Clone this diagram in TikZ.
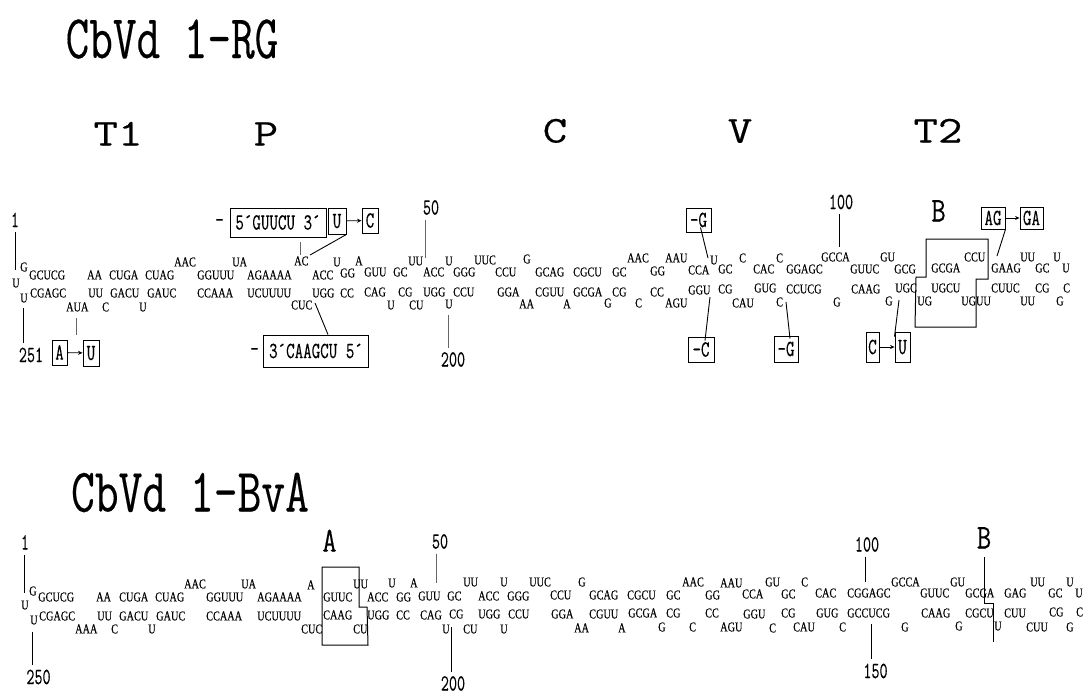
\documentclass[tikz,border=0pt]{standalone}
\usepackage{fontspec}
\usepackage{graphicx}
\setmainfont{Liberation Serif}
\newfontfamily\seqf[FakeBold=0.25]{Liberation Serif}
\newfontfamily\monof[FakeBold=0.3]{Latin Modern Mono}
\usetikzlibrary{arrows.meta}
\newcommand\mono[3]{\scalebox{#2}[1]{\fontsize{#1}{#1}\selectfont\monof #3}}
\newcommand\sq[1]{\scalebox{.76}[1]{\fontsize{13.5}{13.5}\selectfont\seqf #1}}
\tikzset{
  seq/.style={inner sep=0pt,anchor=west,text height=8.8pt,text depth=0pt},
  ttl/.style={inner sep=0pt,text height=38pt,text depth=0pt},
  hdr/.style={inner sep=0pt,text height=23pt,text depth=0pt},
  num/.style={inner sep=0pt,outer ysep=5pt,text height=14pt,text depth=0pt},
  big/.style={inner sep=0pt,outer ysep=3pt,text height=21pt,text depth=0pt},
  bx/.style={draw,line width=.9pt,inner sep=0pt,text height=14pt,text depth=0pt},
  dsh/.style={inner sep=0pt},
  lead/.style={line width=.9pt},
  thin lead/.style={line width=.8pt,black!60},
  arr/.style={line width=.8pt,-{Stealth[length=4.5pt,width=4pt]}},
  wall/.style={line width=1pt},
}
\begin{document}
\begin{tikzpicture}[x=1pt,y=-1pt]
\useasboundingbox (0,0) rectangle (1083,694);
% titles
\node[ttl] (title1) at (172,39) {\mono{62}{.74}{CbVd 1-RG}};
\node[ttl] (title2) at (190,492.5) {\mono{62}{.745}{CbVd 1-BvA}};
\node[hdr] (hT1) at (118,134) {\mono{38}{1.25}{T1}};
\node[hdr] (hP) at (266,134) {\mono{38}{1.25}{P}};
\node[hdr] (hC) at (555,131) {\mono{38}{1.25}{C}};
\node[hdr] (hV) at (740,131) {\mono{38}{1.25}{V}};
\node[hdr] (hT2) at (938,131) {\mono{38}{1.25}{T2}};
% upper strand, first molecule
\foreach \xx/\yy/\tx [count=\i] in {20/267/G,12/283/U,20/298/U,
 29/275/GCUCG,87/275/AA,109/275/CUGA,145/275/CUAG,174/262/AAC,197/275/GGUUU,232/262/UA,247/275/AGAAAA,294/261/AC,312/275/ACC,333/262/U,340/273/GG,355/261/A,
 364/272/GUU,393/272/GC,408/261/UU,423/272/ACC,445/261/U,453/272/GGG,474/260/UUC,495/272/CCU,523/259/G,535/272/GCAG,573/272/CGCU,612/272/GC,627/258/AAC,650/271/GG,665/258/AAU,688/270/CCA,710/260/U,718/269/GC,
 739/258/C,753/269/CAC,776/258/C,786/269/GGAGC,821/257/GCCA,850/269/GUUC,880/257/GU,894/269/GCG,931/268/GCGA,964/257/CCU,991/268/GAAG,1020/257/UU,1035/268/GC,1053/257/U,1062/268/U}
  {\node[seq] (a\i) at (\xx,\yy) {\sq{\tx}};}
% lower strand, first molecule
\foreach \xx/\yy/\tx [count=\i] in {30/293/CGAGC,66/307/AUA,88/293/UU,102/307/C,110/293/GACU,139/307/U,147/293/GAUC,197/293/CCAAA,247/293/UCUUUU,291/305/CUC,312/293/UGG,340/293/CC,
 364/292/CAG,387/305/U,398/292/CG,409/305/CU,423/292/UGG,445/304/U,453/292/CCU,497/292/GGA,519/304/AA,535/292/CGUU,563/304/A,573/292/GCGA,604/303/G,612/292/CG,635/303/C,650/292/CC,665/303/AGU,688/290/GGU,718/289/CG,
 732/303/CAU,754/288/GUG,776/302/C,786/289/CCUCG,833/302/G,851/289/CAAG,885/301/G,895/288/UGC,917/301/UG,931/288/UGCU,961/301/UGUU,991/288/CUUC,1020/301/UU,1035/288/CG,1056/301/G,1063/288/C}
  {\node[seq] (b\i) at (\xx,\yy) {\sq{\tx}};}
% upper strand, second molecule
\foreach \xx/\yy/\tx [count=\i] in {29/591/G,21/605/U,30/620/U,
 38/597/GCUCG,96/597/AA,119/597/CUGA,155/597/CUAG,184/584/AAC,206/597/GGUUU,241/584/UA,257/597/AGAAAA,307/585/A,323/597/GUUC,353/584/UU,
 367/597/ACC,388/583/U,396/597/GG,410/583/A,418/596/GUU,447/596/GC,463/582/UU,478/596/ACC,500/582/U,507/596/GGG,529/582/UUC,550/595/CCU,578/582/G,589/595/GCAG,627/595/CGCU,666/595/GC,682/582/AAC,705/595/GG,720/583/AAU,
 742/594/CCA,765/582/GU,781/594/GC,801/582/C,815/593/CAC,847/593/CGGAGC,891/582/GCCA,920/593/GUUC,950/582/GU,965/593/GCGA,1004/593/GAG,1030/582/UU,1048/593/GC,1066/582/U,1075/593/U}
  {\node[seq] (c\i) at (\xx,\yy) {\sq{\tx}};}
% lower strand, second molecule
\foreach \xx/\yy/\tx [count=\i] in {39/616/CGAGC,75/629/AAA,97/616/UU,111/629/C,119/616/GACU,148/629/U,156/616/GAUC,206/616/CCAAA,257/616/UCUUUU,301/629/CUC,323/615/CAAG,353/629/CU,
 367/615/UGG,396/615/CC,420/615/CAG,442/629/U,449/614/CG,463/629/CU,478/614/UGG,500/629/U,508/614/CCU,551/614/GGA,574/628/AA,589/614/CGUU,618/628/A,628/613/GCGA,658/627/G,666/613/CG,689/627/C,705/613/CC,720/627/AGU,
 743/614/GGU,769/628/C,781/613/CG,793/627/CAU,816/613/GUG,839/627/C,847/613/GCCUCG,901/627/G,921/613/CAAG,955/626/G,965/613/CGCU,994/626/U,1004/613/CUU,1026/627/CUU,1049/612/CG,1066/627/G,1076/612/C}
  {\node[seq] (d\i) at (\xx,\yy) {\sq{\tx}};}
% boxed changes, first molecule
\node[bx,minimum width=96pt,minimum height=29pt] (b5) at (278,222.5) {\mono{23}{.72}{5´GUUCU 3´}};
\node[bx,minimum width=18pt,minimum height=26pt] (bU1) at (337,221) {\mono{23}{.72}{U}};
\node[bx,minimum width=16pt,minimum height=25pt] (bC1) at (370,220.5) {\mono{23}{.72}{C}};
\node[dsh] (dash1) at (219.5,223) {\mono{23}{.72}{-}};
\node[bx,minimum width=105pt,minimum height=32pt] (b3) at (316,351) {\mono{23}{.72}{3´CAAGCU 5´}};
\node[dsh] (dash2) at (254.5,352) {\mono{23}{.72}{-}};
\node[bx,minimum width=15pt,minimum height=25pt] (bA) at (59.5,352.5) {\mono{23}{.72}{A}};
\node[bx,minimum width=16pt,minimum height=26pt] (bU2) at (91,353) {\mono{23}{.72}{U}};
\node[bx,minimum width=25pt,minimum height=24pt] (bmG1) at (698.5,220) {\mono{23}{.72}{-G}};
\node[bx,minimum width=26pt,minimum height=25pt] (bmC) at (701,349.5) {\mono{23}{.72}{-C}};
\node[bx,minimum width=24pt,minimum height=26pt] (bmG2) at (786,349) {\mono{23}{.72}{-G}};
\node[bx,minimum width=13pt,minimum height=30pt] (bC2) at (872.5,347) {\mono{23}{.72}{C}};
\node[bx,minimum width=15pt,minimum height=30pt] (bU3) at (902.5,347) {\mono{23}{.72}{U}};
\node[bx,minimum width=24pt,minimum height=22pt] (bAG) at (993,218) {\mono{23}{.72}{AG}};
\node[bx,minimum width=23pt,minimum height=22pt] (bGA) at (1031.5,218) {\mono{23}{.72}{GA}};
\draw[arr] (bU1) -- (bC1);
\draw[arr] (bA) -- (bU2);
\draw[arr] (bC2) -- (bU3);
\draw[arr] (bAG) -- (bGA);
% numbers and letters, first molecule
\node[num] (n1) at (15,220) {\mono{23}{.68}{1}};
\node[num] (n251) at (31,355) {\mono{23}{.68}{251}};
\node[num] (n50) at (431,207.5) {\mono{23}{.68}{50}};
\node[num] (n200) at (453,359.5) {\mono{23}{.68}{200}};
\node[num] (n100) at (841,202) {\mono{23}{.68}{100}};
\node[big] (nB1) at (938.5,211) {\mono{35}{.8}{B}};
% leaders, first molecule
\coordinate (e1) at (15,270);
\coordinate (e251) at (23,308);
\coordinate (e76a) at (76,318);
\coordinate (e76b) at (76,335);
\coordinate (eACa) at (300,242);
\coordinate (eACb) at (300,255);
\coordinate (eU) at (310,255);
\coordinate (eCUC) at (315,303);
\coordinate (e50) at (425,258);
\coordinate (e200) at (448,315);
\coordinate (eG1) at (708,258);
\coordinate (eC) at (710,297);
\coordinate (eG2) at (786,302);
\coordinate (eCU) at (899,300);
\coordinate (e100) at (839,247);
\coordinate (eAG) at (997,256);
\draw[lead] (n1.south) -- (e1);
\draw[lead] (e251 |- n251.north) -- (e251);
\draw[thin lead] (e76a) -- (e76b);
\draw[thin lead] (eACa) -- (eACb);
\draw[lead] (bU1.south east) -- (eU);
\draw[lead] ([xshift=12pt]b3.north) -- (eCUC);
\draw[thin lead] (e50 |- n50.south) -- (e50);
\draw[thin lead] (e200 |- n200.north) -- (e200);
\draw[lead] ([xshift=2pt,yshift=5pt]bmG1.south) -- (eG1);
\draw[lead] ([xshift=4pt,yshift=-4pt]bmC.north) -- (eC);
\draw[lead] ([xshift=4pt,yshift=-3pt]bmG2.north) -- (eG2);
\draw[lead] ([xshift=-8pt,yshift=-5pt]bU3.north) -- (eCU);
\draw[lead] (e100 |- n100.south) -- (e100);
\draw[lead] (bAG.south east) -- (eAG);
% enclosing outline B, first molecule
\coordinate (p1) at (926,239);
\coordinate (p2) at (988,239);
\coordinate (p3) at (988,279);
\coordinate (p4) at (976,279);
\coordinate (p5) at (976,327);
\coordinate (p6) at (915,327);
\coordinate (p7) at (916,277);
\coordinate (p8) at (926,277);
\draw[wall] (p1) -- (p2) -- (p3) -- (p4) -- (p5) -- (p6) -- (p7) -- (p8) -- cycle;
% numbers and letters, second molecule
\node[num] (m1) at (25,542.5) {\mono{23}{.68}{1}};
\node[num] (m250) at (38.5,677) {\mono{23}{.68}{250}};
\node[num] (m50) at (440,541.5) {\mono{23}{.68}{50}};
\node[num] (m200) at (453,683.5) {\mono{23}{.68}{200}};
\node[num] (m100) at (867,544.5) {\mono{23}{.68}{100}};
\node[num] (m150) at (875.5,671) {\mono{23}{.68}{150}};
\node[big] (mA) at (329.5,541) {\mono{35}{.8}{A}};
\node[big] (mB) at (984,538) {\mono{35}{.8}{B}};
% leaders, second molecule
\coordinate (f1) at (24,593);
\coordinate (f250) at (32,632);
\coordinate (f50) at (436,583);
\coordinate (f200) at (451,627);
\coordinate (f100) at (865,582);
\coordinate (f150) at (871,624);
\coordinate (fB1) at (984,557);
\coordinate (fB2) at (984,603);
\coordinate (fB3) at (993,603);
\coordinate (fB4) at (993,642);
\draw[lead] (f1 |- m1.south) -- (f1);
\draw[lead] (f250 |- m250.north) -- (f250);
\draw[thin lead] (f50 |- m50.south) -- (f50);
\draw[lead] (f200 |- m200.north) -- (f200);
\draw[lead] (f100 |- m100.south) -- (f100);
\draw[lead] (f150 |- m150.north) -- (f150);
\draw[lead] (fB1) -- (fB2) -- (fB3) -- (fB4);
% enclosing outline A, second molecule
\coordinate (q1) at (322,567);
\coordinate (q2) at (359,567);
\coordinate (q3) at (359,607);
\coordinate (q4) at (367,607);
\coordinate (q5) at (368,645);
\coordinate (q6) at (322,645);
\draw[wall] (q1) -- (q2) -- (q3) -- (q4) -- (q5) -- (q6) -- cycle;
\end{tikzpicture}
\end{document}
